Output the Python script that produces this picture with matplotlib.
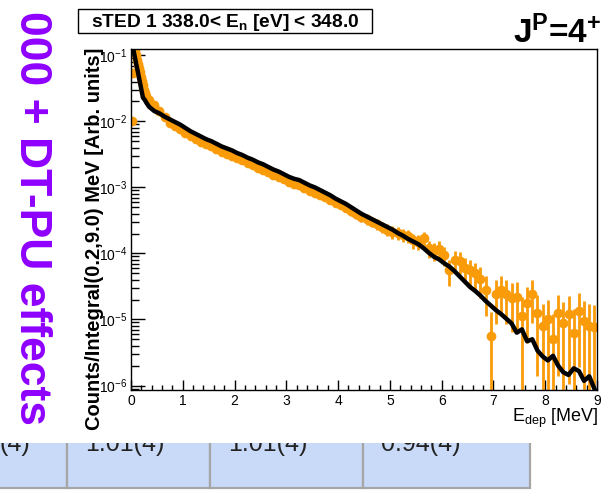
import numpy as np
import matplotlib
matplotlib.use('Agg')
import matplotlib.pyplot as plt
from matplotlib.patches import Rectangle
from matplotlib.ticker import MultipleLocator, LogLocator, FormatStrFormatter

plt.rcParams['font.family'] = ['Liberation Sans', 'DejaVu Sans']
plt.rcParams['mathtext.fontset'] = 'custom'
plt.rcParams['mathtext.rm'] = 'Liberation Sans'
plt.rcParams['mathtext.it'] = 'Liberation Sans:italic'
plt.rcParams['mathtext.bf'] = 'Liberation Sans:bold'

# binning: 0.02 MeV up to 0.3 MeV, then 0.1 MeV up to 9 MeV
edges = np.round(np.concatenate([np.arange(0, 0.3, 0.02), np.arange(0.3, 9.0001, 0.1)]), 3)
centers = 0.5 * (edges[1:] + edges[:-1])
widths = edges[1:] - edges[:-1]

# log10 of the simulated spectrum (black)
sim_log10 = [
    -0.70, -0.85, -0.93, -1.01, -1.09, -1.17, -1.24, -1.32, -1.40, -1.48, -1.56, -1.64, -1.66, -1.68, -1.71,
    -1.78, -1.845, -1.88, -1.93, -1.97, -2.01, -2.05, -2.10, -2.15, -2.19,
    -2.23, -2.27, -2.30, -2.34, -2.38, -2.41, -2.44, -2.48, -2.51, -2.55,
    -2.58, -2.62, -2.65, -2.69, -2.73, -2.76, -2.80, -2.84, -2.87, -2.89,
    -2.93, -2.97, -3.00, -3.04, -3.08, -3.12, -3.17, -3.21, -3.25, -3.30,
    -3.35, -3.40, -3.44, -3.48, -3.52, -3.56, -3.60, -3.64, -3.69, -3.73,
    -3.78, -3.82, -3.86, -3.92, -3.99, -4.05, -4.09, -4.15, -4.20, -4.27,
    -4.35, -4.43, -4.51, -4.57, -4.64, -4.72, -4.79, -4.86, -4.92, -4.99,
    -5.06, -5.20, -5.15, -5.33, -5.30, -5.47, -5.56, -5.62, -5.55, -5.70,
    -5.80, -5.84, -5.74, -5.78, -5.93, -5.86, -6.05,
]

# log10 of the measured spectrum (orange)
exp_log10 = [
    -2.00, -1.27, -0.96, -0.94, -1.00, -1.07, -1.13, -1.20, -1.26, -1.33, -1.39, -1.45, -1.52, -1.57, -1.61,
    -1.67, -1.76, -1.85, -1.94, -2.02, -2.07, -2.12, -2.17, -2.22, -2.27,
    -2.31, -2.34, -2.38, -2.42, -2.46, -2.49, -2.52, -2.56, -2.59, -2.63,
    -2.66, -2.70, -2.73, -2.77, -2.81, -2.84, -2.88, -2.92, -2.95, -2.97,
    -3.01, -3.05, -3.08, -3.12, -3.15, -3.19, -3.23, -3.27, -3.31, -3.36,
    -3.40, -3.45, -3.48, -3.52, -3.56, -3.60, -3.64, -3.67, -3.69, -3.72,
    -3.73, -3.80, -3.82, -3.77, -3.92, -3.96, -3.93, -4.02, -4.25, -4.10,
    -4.12, -4.22, -4.25, -4.30, -4.38, -4.55, -5.25, -4.62, -4.55, -4.62,
    -4.68, -4.66, -4.95, -4.75, -4.61, -4.90, -5.10, -5.00, -5.30, -4.90,
    -5.05, -4.92, -5.20, -4.87, -5.02, -5.10, -5.12,
]

one_count = 1e-5  # normalised value of a single count

table_values = ['(4)', '1.01(4)', '1.01(4)', '0.94(4)']

sim = 10 ** np.array(sim_log10)
exp = 10 ** np.array(exp_log10)
exp_err = np.sqrt(exp * one_count)

fig = plt.figure(figsize=(6.07, 4.98), dpi=100)

# slide background in pixel coordinates
bg = fig.add_axes([0, 0, 1, 1])
bg.set_xlim(0, 607)
bg.set_ylim(498, 0)
bg.axis('off')

cell_x = [-10, 67, 210, 363, 530]
for i in range(4):
    bg.add_patch(Rectangle((cell_x[i], 420), cell_x[i + 1] - cell_x[i], 68,
                           facecolor='#c9daf8', edgecolor='#a6a6a6', lw=1.6, zorder=1))
    bg.text(cell_x[i] + 18 if i else 30, 451, table_values[i], ha='left' if i else 'right',
            va='baseline', fontsize=18, color='#222222', zorder=2)
bg.add_patch(Rectangle((0, 0), 607, 443, facecolor='white', edgecolor='none', zorder=5))

bg.text(20, 425, '000 + DT-PU effects', rotation=270, rotation_mode='anchor', ha='right',
        va='baseline', fontsize=32, fontweight='bold', color='#8f00ff', zorder=6)

bg.add_patch(Rectangle((78, 9), 294, 24, fill=False, edgecolor='black', lw=1.0, zorder=6))
bg.text(225, 27, r'sTED 1 338.0< E$_{\mathbf{n}}$ [eV] < 348.0', ha='center', va='baseline',
        fontsize=13.8, fontweight='bold', zorder=7)
bg.text(513, 43, r'J$^{\mathbf{P}}$=4$^{\mathbf{+}}$', ha='left', va='baseline',
        fontsize=24, fontweight='bold', zorder=7)
bg.text(100, 48, 'Counts/Integral(0.2,9.0) MeV [Arb. units]', rotation=90, rotation_mode='anchor',
        ha='right', va='baseline', fontsize=14.5, fontweight='bold', zorder=7)
bg.text(598, 422, r'E$_{\mathrm{dep}}$ [MeV]', ha='right', va='baseline', fontsize=13, zorder=7)

# the spectrum frame
ax = fig.add_axes([131 / 607, 1 - 390 / 498, 466 / 607, 341 / 498])
ax.set_zorder(10)
ax.patch.set_alpha(0)

ax.errorbar(centers, exp, yerr=exp_err, xerr=widths / 2, fmt='o', color='#fa9b0a',
            ms=6, elinewidth=2.0, capsize=0, zorder=2)
ax.plot(centers, sim, color='black', lw=3.2, solid_joinstyle='round', zorder=3)

ax.set_yscale('log')
ax.set_xlim(0, 9)
ax.set_ylim(10 ** -6.068, 10 ** -0.905)

ax.xaxis.set_major_locator(MultipleLocator(1))
ax.xaxis.set_minor_locator(MultipleLocator(0.2))
ax.xaxis.set_major_formatter(FormatStrFormatter('%d'))
ax.yaxis.set_major_locator(LogLocator(base=10, numticks=10))
ax.yaxis.set_minor_locator(LogLocator(base=10, subs=np.arange(2, 10), numticks=10))

ax.tick_params(which='both', direction='in', top=False, right=False, labelsize=10, width=1)
ax.tick_params(axis='x', which='major', length=7, pad=3)
ax.tick_params(axis='x', which='minor', length=3.6)
ax.tick_params(axis='y', which='major', length=10, pad=3)
ax.tick_params(axis='y', which='minor', length=5.5)
for s in ax.spines.values():
    s.set_linewidth(1.0)

fig.savefig('out.png', dpi=100)
